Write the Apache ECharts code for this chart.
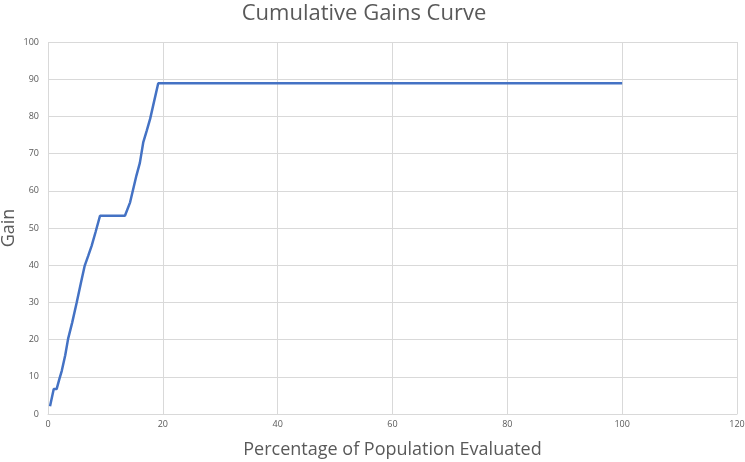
<!DOCTYPE html>
<html>
<head>
<meta charset="utf-8">
<script src="https://cdn.jsdelivr.net/npm/echarts@6/dist/echarts.min.js"></script>
<style>
  html, body { margin: 0; padding: 0; background: #fff; }
  #chart { width: 745px; height: 462px; }
</style>
</head>
<body>
<div id="chart"></div>
<script>
var titleText = 'Cumulative Gains Curve';
var xName = 'Percentage of Population Evaluated';
var yName = 'Gain';

// population % evaluated / gain
var popPct = [0.35, 1.0, 1.5, 2.0, 2.4, 3.0, 3.5, 4.2, 5.0, 5.7, 6.4, 7.0, 7.6, 8.3, 9.06,
              13.4, 14.3, 15.4, 16.0, 16.6, 17.2, 17.8, 18.4, 19.2, 100];
var gain   = [2.1, 6.7, 6.7, 9.5, 11.6, 15.8, 20.2, 24.5, 30.0, 35.0, 39.9, 42.5, 45.2, 49.0, 53.3,
              53.3, 56.9, 64.1, 67.5, 73.1, 76.2, 79.4, 83.5, 88.9, 88.9];

var xTicks = { min: 0, max: 120, interval: 20 };
var yTicks = { min: 0, max: 100, interval: 10 };

var myChart = echarts.init(document.getElementById('chart'));
var textColor = '#595959';
var option = {
    animation: false,
    title: {
        text: titleText,
        left: 359,
        top: -2,
        textAlign: 'center',
        textStyle: {
            color: textColor,
            fontFamily: 'Open Sans',
            fontWeight: 'normal',
            fontSize: 22
        }
    },
    grid: {
        left: 48,
        right: 8,
        top: 42,
        bottom: 48,
        containLabel: false,
        outerBoundsMode: 'none'
    },
    xAxis: {
        type: 'value',
        min: xTicks.min,
        max: xTicks.max,
        interval: xTicks.interval,
        name: xName,
        nameLocation: 'middle',
        nameGap: 27,
        nameTextStyle: { color: textColor, fontFamily: 'Open Sans', fontSize: 18 },
        axisLine: { show: true, lineStyle: { color: '#d9d9d9' } },
        axisTick: { show: false },
        axisLabel: { color: textColor, fontFamily: 'Open Sans', fontSize: 9, margin: 6 },
        splitLine: { show: true, lineStyle: { color: '#d9d9d9', width: 1 } }
    },
    yAxis: {
        type: 'value',
        min: yTicks.min,
        max: yTicks.max,
        interval: yTicks.interval,
        name: yName,
        nameLocation: 'middle',
        nameGap: 30,
        nameMoveOverlap: false,
        nameTextStyle: { color: textColor, fontFamily: 'Open Sans', fontSize: 18 },
        axisLine: { show: false },
        axisTick: { show: false },
        axisLabel: { color: textColor, fontFamily: 'Open Sans', fontSize: 9, margin: 9 },
        splitLine: { show: true, lineStyle: { color: '#d9d9d9', width: 1 } }
    },
    series: [
        {
            type: 'line',
            data: popPct.map(function (x, i) { return [x, gain[i]]; }),
            showSymbol: false,
            lineStyle: { color: '#4472C4', width: 2.5 }
        }
    ]
};
myChart.setOption(option);
window.addEventListener('resize', function () {
    myChart.resize();
});
</script>
</body>
</html>
